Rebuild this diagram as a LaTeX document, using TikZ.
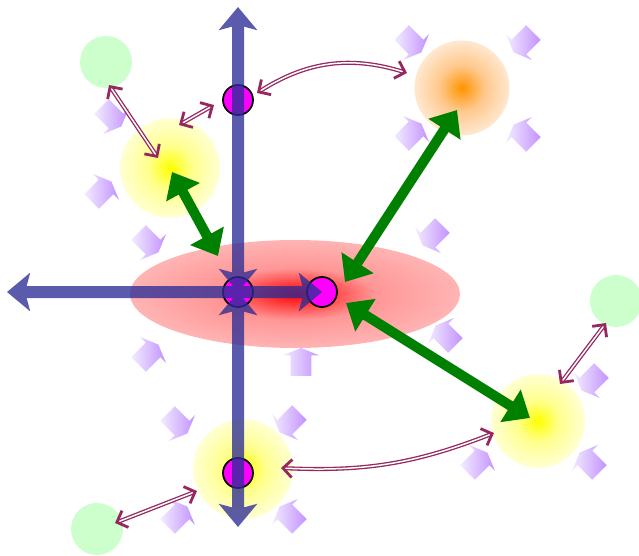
\documentclass[tikz,border=0pt]{standalone}
\usepackage{tikz}
\usetikzlibrary{arrows.meta,shapes.geometric,shapes.arrows}
\definecolor{axisblue}{RGB}{45,45,150}
\definecolor{linkred}{RGB}{150,40,95}
\definecolor{fadepurple}{RGB}{195,145,255}
\definecolor{fadelight}{RGB}{242,236,255}
\definecolor{spotgreen}{RGB}{204,255,204}
\definecolor{flowgreen}{RGB}{0,128,0}
\definecolor{sitepink}{RGB}{255,0,255}
\definecolor{hotorange}{RGB}{255,148,0}
\definecolor{coreA}{RGB}{255,0,0}
\definecolor{coreB}{RGB}{255,150,150}
\definecolor{coreC}{RGB}{255,180,180}
\definecolor{sunA}{RGB}{255,255,0}
\definecolor{sunB}{RGB}{255,255,140}
\definecolor{sunC}{RGB}{255,255,212}
\definecolor{emberA}{RGB}{255,148,0}
\definecolor{emberB}{RGB}{255,200,140}
\definecolor{emberC}{RGB}{255,232,208}
\pgfdeclareradialshading{coreglow}{\pgfpoint{0bp}{0bp}}{color(0bp)=(coreA); color(12bp)=(coreB); color(25bp)=(coreC); color(50bp)=(coreC)}
\pgfdeclareradialshading{sunglow}{\pgfpoint{0bp}{0bp}}{color(0bp)=(sunA); color(11bp)=(sunB); color(25bp)=(sunC); color(50bp)=(sunC)}
\pgfdeclareradialshading{emberglow}{\pgfpoint{0bp}{0bp}}{color(0bp)=(emberA); color(12bp)=(emberB); color(25bp)=(emberC); color(50bp)=(emberC)}

\begin{document}
\begin{tikzpicture}[x=0.02cm, y=-0.02cm,
    glow/.style 2 args={circle, inner sep=0pt, minimum size=#2, shade, shading=#1},
    site/.style={circle, draw=black, line width=1pt, fill=sitepink, inner sep=0pt, minimum size=0.6cm},
    spot/.style={circle, fill=spotgreen, inner sep=0pt, minimum size=1.04cm},
    axisline/.style={draw=axisblue, fill=axisblue, line width=0.24cm,
      arrows={Stealth[length=0.46cm, width=0.76cm, inset=0.1cm]-Stealth[length=0.46cm, width=0.76cm, inset=0.1cm]}},
    bigflow/.style={draw=flowgreen, line width=0.2cm,
      arrows={Triangle[length=0.46cm, width=0.74cm]-Triangle[length=0.46cm, width=0.74cm]}},
    link/.style={draw=linkred, double, line width=0.75pt, double distance=0.85pt,
      arrows={Straight Barb[length=0.18cm, width=0.36cm, line width=1.6pt]-Straight Barb[length=0.18cm, width=0.36cm, line width=1.6pt]}},
    push/.style={single arrow, inner xsep=0.1cm, inner ysep=0.2cm, single arrow head extend=0.16cm,
      single arrow tip angle=135, minimum height=0.56cm, left color=fadelight, right color=fadepurple}]
    \useasboundingbox (0,0) rectangle (639,555);

    \node[ellipse, inner sep=0pt, minimum width=6.6cm, minimum height=2.16cm,
      shade, shading=coreglow] (core) at (295,294) {};
    \node[glow={sunglow}{2cm}] (b1) at (170,168) {};
    \node[glow={sunglow}{2cm}] (b2) at (243,469) {};
    \node[glow={sunglow}{1.88cm}] (b3) at (538,421) {};
    \node[glow={emberglow}{1.9cm}] (or) at (462,88) {};
    \node[spot] (g1) at (106,62) {};
    \node[spot] (g2) at (616,301) {};
    \node[spot] (g3) at (97,529) {};

    \foreach \px/\py/\ang [count=\i] in {410/41/-45, 525/41/-135, 410/135/45, 525/136/135,
        110/115/-45, 100/193/45, 147/241/-45, 147/356/45, 434/234/-135, 447/337/135,
        301/364/90, 176/422/-45, 291/421/-135, 176/518/45, 291/518/135,
        593/379/-135, 476/464/45, 591/464/135}
      \node[push, rotate=\ang] (f\i) at (\px,\py) {};

    \node[site] (t) at (238,100) {};
    \node[site] (o) at (238,292) {};
    \node[site] (p) at (322,292) {};
    \node[site] (bt) at (238,473) {};

    \coordinate (top) at (238,7);
    \coordinate (bottom) at (238,527);
    \coordinate (left) at (7,292);
    \begin{scope}[transparency group, opacity=0.78]
      \draw[axisline] (o.center) -- (top);
      \draw[axisline] (o.center) -- (bottom);
      \draw[axisline] (left) -- (p.center);
    \end{scope}

    \draw[bigflow] ([shift={(2,4)}]b1.center) -- ([shift={(-20,-36)}]o.center);
    \draw[bigflow] ([shift={(-5,22)}]or.center) -- ([shift={(23,-10)}]p.center);
    \draw[bigflow] ([shift={(24,11)}]p.center) -- ([shift={(-8,-3)}]b3.center);

    \draw[link] ([shift={(3,23)}]g1.center) -- ([shift={(-12,-10)}]b1.center);
    \draw[link] ([shift={(9,-43)}]b1.center) -- ([shift={(-24,5)}]t.center);
    \draw[link] ([shift={(19,-7)}]t.center) to[bend left=25] ([shift={(-55,-15)}]or.center);
    \draw[link] ([shift={(43,-5)}]bt.center) to[bend right=12] ([shift={(-44,12)}]b3.center);
    \draw[link] ([shift={(18,-6)}]g3.center) -- ([shift={(-46,22)}]b2.center);
    \draw[link] ([shift={(22,-37)}]b3.center) -- ([shift={(-10,22)}]g2.center);
  \end{tikzpicture}
\end{document}
